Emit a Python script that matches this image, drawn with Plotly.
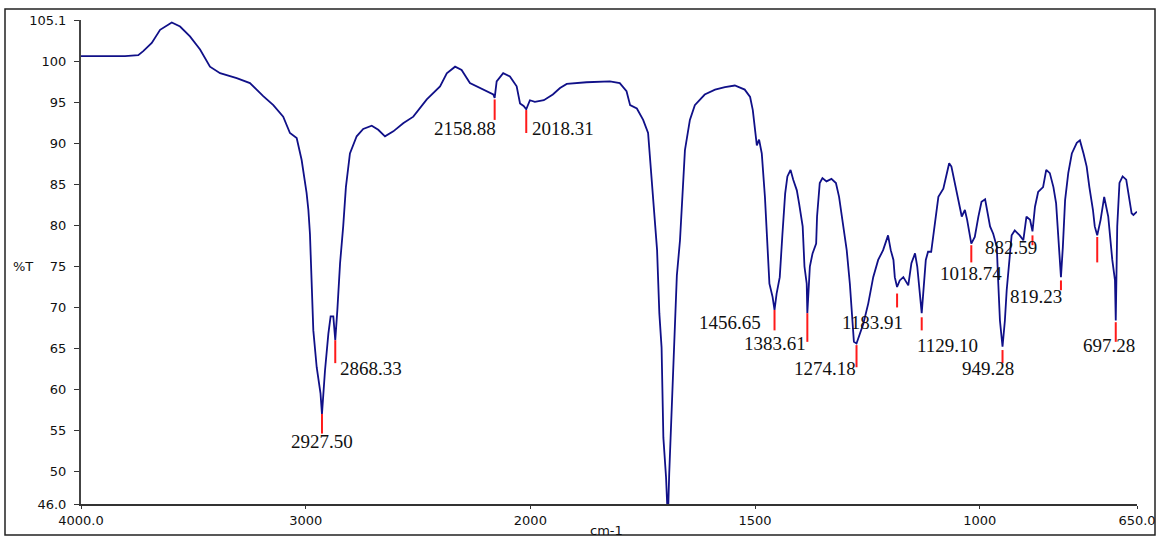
import plotly.graph_objects as go

# ---------------- data ----------------
wavenumber = [
    4000, 3804, 3745, 3723, 3685, 3648, 3596, 3559, 3515, 3470, 3426, 3381, 3307, 3248,
    3189, 3144, 3100, 3070, 3040, 3018, 2996, 2988, 2981, 2973, 2966, 2951, 2934, 2927.5,
    2914, 2899, 2889, 2877, 2868.33, 2859, 2847, 2833, 2821, 2803, 2773, 2744, 2706, 2677,
    2647, 2610, 2566, 2521, 2461, 2402, 2372, 2335, 2306, 2269, 2224, 2165, 2158.88, 2150,
    2121, 2091, 2061, 2046, 2030, 2018.31, 2002, 1990, 1970, 1950, 1934, 1919, 1875, 1823,
    1801, 1786, 1778, 1763, 1749, 1738, 1718, 1713, 1708, 1704, 1698, 1694, 1691, 1686,
    1680, 1674, 1667, 1660, 1656, 1645, 1634, 1612, 1589, 1567, 1545, 1523, 1511, 1505,
    1496, 1491, 1485, 1478, 1473, 1468, 1461, 1456.65, 1452, 1445, 1439, 1433, 1428, 1421,
    1415, 1407, 1402, 1394, 1390, 1385, 1383.61, 1378, 1372, 1364, 1362, 1356, 1350, 1341,
    1330, 1320, 1313, 1305, 1296, 1289, 1283, 1280, 1274.18, 1266, 1259, 1248, 1237, 1226,
    1215, 1204, 1198, 1192, 1189, 1183.91, 1178, 1170, 1159, 1152, 1144, 1139, 1133, 1129.10,
    1120, 1115, 1108, 1100, 1092, 1081, 1074, 1068, 1063, 1055, 1048, 1040, 1033, 1028,
    1018.74, 1011, 1003, 996, 988, 983, 977, 970, 962, 959, 955, 949.28, 944, 940, 934, 929,
    922, 911, 903, 896, 888, 882.59, 877, 870, 859, 852, 844, 836, 830, 825, 819.23, 815,
    810, 803, 795, 784, 777, 769, 762, 756, 748, 744, 738.5, 731, 723, 720, 714, 705, 699,
    697.28, 694, 689, 682, 674, 667, 662, 658, 650,
]
transmittance = [
    100.7, 100.7, 100.8, 101.3, 102.3, 103.9, 104.8, 104.3, 103.1, 101.5, 99.4, 98.6, 98.0, 97.4,
    95.8, 94.7, 93.3, 91.3, 90.7, 88.0, 84.0, 81.9, 79.0, 72.5, 67.2, 62.7, 59.5, 57.0,
    62.3, 66.8, 68.9, 68.9, 66.0, 69.7, 75.4, 79.9, 84.7, 88.8, 90.9, 91.8, 92.2, 91.7,
    90.9, 91.5, 92.5, 93.3, 95.4, 97.0, 98.6, 99.4, 99.0, 97.4, 96.8, 96.0, 95.6, 97.6,
    98.6, 98.2, 97.0, 94.9, 94.6, 94.2, 95.3, 95.1, 95.3, 96.0, 96.8, 97.3, 97.5, 97.6,
    97.4, 96.4, 94.7, 94.3, 92.9, 91.3, 77.0, 69.3, 65.1, 54.1, 49.2, 44.0, 49.7, 57.1,
    64.8, 73.9, 78.2, 85.0, 89.2, 92.9, 94.7, 96.0, 96.6, 96.9, 97.1, 96.6, 95.7, 94.1,
    89.8, 90.5, 88.8, 83.5, 78.6, 72.9, 71.3, 69.7, 71.7, 73.7, 79.0, 83.9, 86.0, 86.8,
    85.6, 84.3, 82.7, 79.9, 75.0, 72.9, 69.3, 75.0, 76.6, 77.8, 81.1, 85.2, 85.8, 85.4,
    85.7, 85.2, 83.5, 80.3, 77.0, 72.9, 68.8, 65.8, 65.6, 66.8, 68.0, 70.5, 73.7, 75.8,
    77.0, 78.8, 77.0, 75.8, 73.7, 72.5, 73.3, 73.7, 72.7, 75.4, 76.6, 75.0, 71.3, 69.3,
    75.8, 76.8, 76.8, 79.9, 83.5, 84.5, 86.0, 87.6, 87.2, 85.2, 83.1, 81.1, 81.9, 80.7,
    77.8, 78.6, 81.1, 82.9, 83.2, 81.9, 79.9, 79.0, 77.4, 73.3, 68.4, 65.2, 68.4, 72.1, 75.8, 78.8,
    79.4, 78.8, 78.2, 81.1, 80.7, 79.3, 82.3, 84.1, 84.7, 86.8, 86.4, 84.7, 82.7, 78.6, 73.7, 77.4,
    83.1, 86.4, 88.8, 90.1, 90.4, 88.8, 87.2, 84.7, 81.9, 79.9, 78.8, 80.7, 83.5, 82.7, 81.1, 75.8, 73.3,
    68.4, 79.9, 85.2, 86.0, 85.6, 83.5, 81.5, 81.3, 81.7,
]

peak_wn = [2927.50, 2868.33, 2158.88, 2018.31, 1456.65, 1383.61, 1274.18, 1183.91,
           1129.10, 1018.74, 949.28, 882.59, 819.23, 738.5, 697.28]
peak_top = [57.0, 66.0, 95.4, 94.1, 69.7, 69.3, 65.4, 71.7, 68.8, 77.6, 64.8, 78.8, 73.3, 78.6, 68.2]
peak_bottom = [54.6, 63.2, 92.9, 91.3, 67.2, 65.8, 62.7, 70.0, 67.2, 75.5, 63.2, 77.6, 72.1, 75.5, 65.8]
peak_text = ["2927.50", "2868.33", "2158.88", "2018.31", "1456.65", "1383.61", "1274.18",
             "1183.91", "1129.10", "1018.74", "949.28", "882.59", "819.23", "", "697.28"]
label_y = [53.6, 62.6, 91.8, 91.8, 68.2, 65.6, 62.6, 68.2, 65.4, 74.2, 62.5, 77.3, 71.3, None, 65.3]

x_tick_values = [4000, 3000, 2000, 1500, 1000, 650]
x_tick_text = ["4000.0", "3000", "2000", "1500", "1000", "650.0"]
y_tick_values = [105.1, 100, 95, 90, 85, 80, 75, 70, 65, 60, 55, 50, 46.0]
y_tick_text = ["105.1", "100", "95", "90", "85", "80", "75", "70", "65", "60", "55", "50", "46.0"]

# label placement (style): anchor and pixel shift
label_anchor = ["center", "left", "right", "left", "right", "right", "right", "right",
                "left", "center", "right", "right", "right", "center", "right"]
label_shift = [0, 3, 3, 4, -12, 1, 1, 8, -7, 0, 13, 7, 3, 0, 21]


# IR spectrometer scale: compressed above 2000 cm-1, expanded (x2) below
def pos(w):
    return (4000 - w) if w >= 2000 else 2000 + 2 * (2000 - w)


W, H = 1159, 539
ML, MR, MT, MB = 81, 22, 20, 35
PW, PH = W - ML - MR, H - MT - MB


def px(x):
    return (x - ML) / PW


def py(y):
    return (H - MB - y) / PH


fig = go.Figure()
fig.add_trace(go.Scatter(
    x=[pos(w) for w in wavenumber], y=transmittance, mode="lines",
    line=dict(color="#101088", width=1.8), hoverinfo="skip", showlegend=False))

mx, my = [], []
for w, t, b in zip(peak_wn, peak_top, peak_bottom):
    mx += [pos(w), pos(w), None]
    my += [t, b, None]
fig.add_trace(go.Scatter(x=mx, y=my, mode="lines", line=dict(color="#ff1a1a", width=2),
                         hoverinfo="skip", showlegend=False))

for w, txt, ly, anc, sh in zip(peak_wn, peak_text, label_y, label_anchor, label_shift):
    if not txt:
        continue
    fig.add_annotation(x=pos(w), y=ly, text=txt, showarrow=False, xanchor=anc, yanchor="middle",
                       xshift=sh, font=dict(family="Liberation Serif", size=19, color="#111"))

fig.add_annotation(xref="paper", yref="paper", x=px(23), y=py(266), text="%T", showarrow=False,
                   xanchor="center", yanchor="middle",
                   font=dict(family="DejaVu Sans", size=13, color="#111"))
fig.add_annotation(xref="paper", yref="paper", x=px(606), y=py(530), text="cm-1", showarrow=False,
                   xanchor="center", yanchor="middle",
                   font=dict(family="DejaVu Sans", size=13, color="#111"))

fig.add_shape(type="rect", xref="paper", yref="paper", x0=px(5), x1=px(1155), y0=py(535), y1=py(9),
              line=dict(color="#222", width=1.5), layer="below")

fig.update_xaxes(range=[pos(4000), pos(650)], tickvals=[pos(v) for v in x_tick_values],
                 ticktext=x_tick_text, showgrid=False, zeroline=False, showline=True,
                 linecolor="#333", linewidth=2, ticks="outside", ticklen=3, tickcolor="#333",
                 tickfont=dict(family="DejaVu Sans", size=13, color="#111"))
fig.update_yaxes(range=[46.0, 105.1], tickvals=y_tick_values, ticktext=y_tick_text,
                 showgrid=False, zeroline=False, showline=True, linecolor="#444", linewidth=2,
                 ticks="outside", ticklen=5, tickcolor="#333", ticklabelstandoff=5,
                 tickfont=dict(family="DejaVu Sans", size=13, color="#111"))

fig.update_layout(width=W, height=H,
                  margin=dict(l=ML, r=MR, t=MT, b=MB, autoexpand=False),
                  paper_bgcolor="white", plot_bgcolor="white")

fig.write_html("out.html")
